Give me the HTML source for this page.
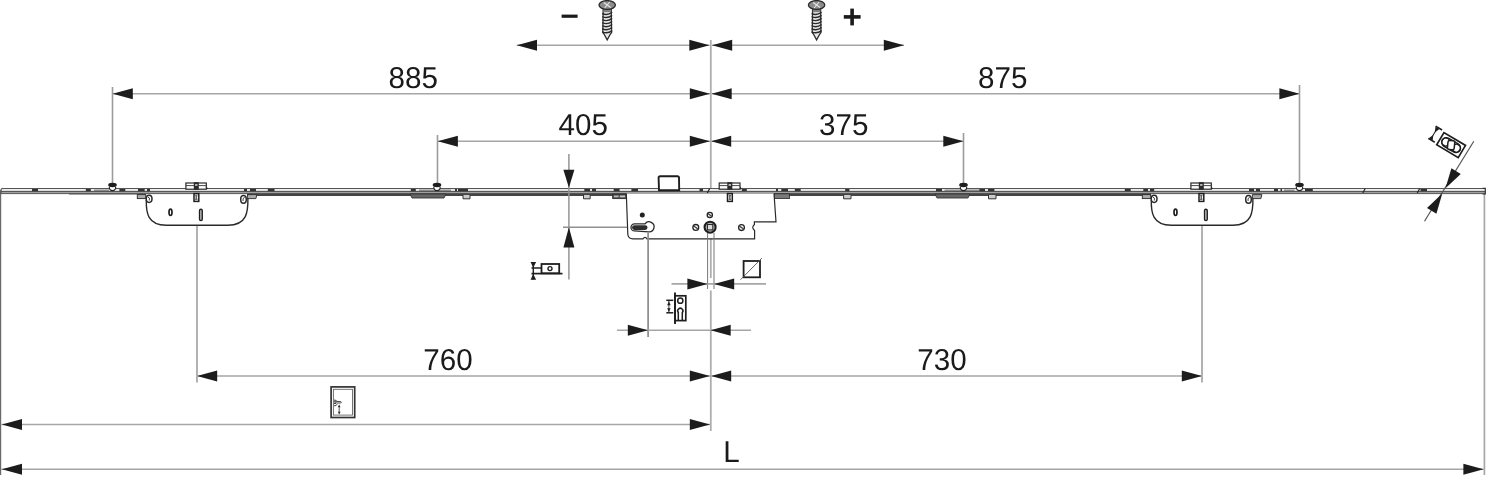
<!DOCTYPE html>
<html><head><meta charset="utf-8"><style>
html,body{margin:0;padding:0;background:#fff;}
body{width:1486px;height:480px;overflow:hidden;}
svg{display:block;will-change:transform;}
</style></head><body>
<svg width="1486" height="480" viewBox="0 0 1486 480">
<rect width="1486" height="480" fill="#fff"/>
<line x1="516.8" y1="45.3" x2="709.5" y2="45.3" stroke="#a6a6a6" stroke-width="1.6"/><polygon points="516.80,45.30 537.00,39.80 537.00,50.80" fill="#1c1c1c"/><polygon points="709.50,45.30 689.30,50.80 689.30,39.80" fill="#1c1c1c"/>
<line x1="712" y1="45.3" x2="904" y2="45.3" stroke="#a6a6a6" stroke-width="1.6"/><polygon points="712.00,45.30 732.20,39.80 732.20,50.80" fill="#1c1c1c"/><polygon points="904.00,45.30 883.80,50.80 883.80,39.80" fill="#1c1c1c"/>
<line x1="112.6" y1="93.7" x2="710" y2="93.7" stroke="#a6a6a6" stroke-width="1.6"/><polygon points="112.60,93.70 132.80,88.20 132.80,99.20" fill="#1c1c1c"/><polygon points="710.00,93.70 689.80,99.20 689.80,88.20" fill="#1c1c1c"/>
<line x1="711.5" y1="93.7" x2="1299.6" y2="93.7" stroke="#a6a6a6" stroke-width="1.6"/><polygon points="711.50,93.70 731.70,88.20 731.70,99.20" fill="#1c1c1c"/><polygon points="1299.60,93.70 1279.40,99.20 1279.40,88.20" fill="#1c1c1c"/>
<line x1="437.7" y1="141.3" x2="710" y2="141.3" stroke="#a6a6a6" stroke-width="1.6"/><polygon points="437.70,141.30 457.90,135.80 457.90,146.80" fill="#1c1c1c"/><polygon points="710.00,141.30 689.80,146.80 689.80,135.80" fill="#1c1c1c"/>
<line x1="711" y1="141.3" x2="963.5" y2="141.3" stroke="#a6a6a6" stroke-width="1.6"/><polygon points="711.00,141.30 731.20,135.80 731.20,146.80" fill="#1c1c1c"/><polygon points="963.50,141.30 943.30,146.80 943.30,135.80" fill="#1c1c1c"/>
<line x1="197" y1="376" x2="710" y2="376" stroke="#a6a6a6" stroke-width="1.6"/><polygon points="197.00,376.00 217.20,370.50 217.20,381.50" fill="#1c1c1c"/><polygon points="710.00,376.00 689.80,381.50 689.80,370.50" fill="#1c1c1c"/>
<line x1="711" y1="376" x2="1202" y2="376" stroke="#a6a6a6" stroke-width="1.6"/><polygon points="711.00,376.00 731.20,370.50 731.20,381.50" fill="#1c1c1c"/><polygon points="1202.00,376.00 1181.80,381.50 1181.80,370.50" fill="#1c1c1c"/>
<line x1="1.5" y1="424.5" x2="710.5" y2="424.5" stroke="#a6a6a6" stroke-width="1.6"/>
<polygon points="1.80,424.50 22.00,419.00 22.00,430.00" fill="#1c1c1c"/>
<polygon points="710.00,424.50 689.80,430.00 689.80,419.00" fill="#1c1c1c"/>
<line x1="1.5" y1="469.2" x2="1483.5" y2="469.2" stroke="#a6a6a6" stroke-width="1.6"/>
<polygon points="1.80,469.20 22.00,463.70 22.00,474.70" fill="#1c1c1c"/>
<polygon points="1483.60,469.20 1463.40,474.70 1463.40,463.70" fill="#1c1c1c"/>
<line x1="112.5" y1="87" x2="112.5" y2="186" stroke="#9c9c9c" stroke-width="1.6"/>
<line x1="437.5" y1="135" x2="437.5" y2="186" stroke="#9c9c9c" stroke-width="1.6"/>
<line x1="963.5" y1="133" x2="963.5" y2="186" stroke="#9c9c9c" stroke-width="1.6"/>
<line x1="1299.5" y1="85" x2="1299.5" y2="186" stroke="#9c9c9c" stroke-width="1.6"/>
<line x1="710.8" y1="40" x2="710.8" y2="278" stroke="#aeaeae" stroke-width="1.8"/>
<line x1="710.8" y1="290.5" x2="710.8" y2="431" stroke="#aeaeae" stroke-width="1.8"/>
<line x1="197" y1="226" x2="197" y2="382.5" stroke="#aaaaaa" stroke-width="1.8"/>
<line x1="1202" y1="226" x2="1202" y2="382.5" stroke="#aaaaaa" stroke-width="1.8"/>
<line x1="0.6" y1="190" x2="0.6" y2="475" stroke="#6a6a6a" stroke-width="1.2"/>
<line x1="1484.4" y1="193" x2="1484.4" y2="475" stroke="#a8a8a8" stroke-width="1.7"/>
<text transform="translate(413.2,87.5) scale(1,1.02)" x="0" y="0" font-family="Liberation Sans, sans-serif" text-rendering="geometricPrecision" font-size="29.6" fill="#1a1a1a" text-anchor="middle">885</text>
<text transform="translate(1002.8,87.8) scale(1,1.02)" x="0" y="0" font-family="Liberation Sans, sans-serif" text-rendering="geometricPrecision" font-size="29.6" fill="#1a1a1a" text-anchor="middle">875</text>
<text transform="translate(583.2,135.2) scale(1,1.02)" x="0" y="0" font-family="Liberation Sans, sans-serif" text-rendering="geometricPrecision" font-size="29.6" fill="#1a1a1a" text-anchor="middle">405</text>
<text transform="translate(843.7,135.2) scale(1,1.02)" x="0" y="0" font-family="Liberation Sans, sans-serif" text-rendering="geometricPrecision" font-size="29.6" fill="#1a1a1a" text-anchor="middle">375</text>
<text transform="translate(448,369.8) scale(1,1.02)" x="0" y="0" font-family="Liberation Sans, sans-serif" text-rendering="geometricPrecision" font-size="29.6" fill="#1a1a1a" text-anchor="middle">760</text>
<text transform="translate(941.9,369.8) scale(1,1.02)" x="0" y="0" font-family="Liberation Sans, sans-serif" text-rendering="geometricPrecision" font-size="29.6" fill="#1a1a1a" text-anchor="middle">730</text>
<text transform="translate(731.4,462.4) scale(1,1.02)" x="0" y="0" font-family="Liberation Sans, sans-serif" text-rendering="geometricPrecision" font-size="29.6" fill="#1a1a1a" text-anchor="middle">L</text>
<rect x="1" y="188" width="1484" height="6" fill="#eeeeee"/>
<line x1="3" y1="188.5" x2="1484" y2="188.5" stroke="#555" stroke-width="1.1"/>
<line x1="1" y1="191.4" x2="1485" y2="191.4" stroke="#444" stroke-width="1.0"/>
<line x1="1" y1="192.6" x2="1485" y2="192.6" stroke="#999" stroke-width="1.0"/>
<line x1="1" y1="193.6" x2="1485" y2="193.6" stroke="#555" stroke-width="1.0"/>
<rect x="247" y="193.5" width="904" height="2.5" fill="#444"/>
<path d="M1,194 L1,190.5 Q1,188.3 3,188.3" fill="none" stroke="#555" stroke-width="1.1"/>
<path d="M1482.5,188.3 L1485.3,188.3 L1485.3,194 L1482.5,194" fill="none" stroke="#333" stroke-width="1.2"/>
<rect x="32" y="189" width="6" height="2.2" fill="#333"/>
<rect x="85.8" y="189" width="5.0" height="2.2" fill="#333"/>
<rect x="119.4" y="189" width="5.8999999999999915" height="2.2" fill="#333"/>
<rect x="138" y="189" width="6.699999999999989" height="2.2" fill="#333"/>
<rect x="147" y="189" width="3" height="2.2" fill="#333"/>
<rect x="244" y="189" width="3" height="2.2" fill="#333"/>
<rect x="250" y="189" width="6" height="2.2" fill="#333"/>
<rect x="267.8" y="189" width="6.699999999999989" height="2.2" fill="#333"/>
<rect x="410.8" y="189" width="5.0" height="2.2" fill="#333"/>
<rect x="455" y="189" width="2" height="2.2" fill="#333"/>
<rect x="458" y="189" width="10" height="2.2" fill="#333"/>
<rect x="584.3" y="189" width="5.7000000000000455" height="2.2" fill="#333"/>
<rect x="592" y="189" width="4" height="2.2" fill="#333"/>
<rect x="613.7" y="189" width="5.899999999999977" height="2.2" fill="#333"/>
<rect x="631.4" y="189" width="6.600000000000023" height="2.2" fill="#333"/>
<rect x="699.5" y="189" width="3.5" height="2.2" fill="#333"/>
<rect x="741.8" y="189" width="5.0" height="2.2" fill="#333"/>
<rect x="776" y="189" width="2" height="2.2" fill="#333"/>
<rect x="781.3" y="189" width="6.7000000000000455" height="2.2" fill="#333"/>
<rect x="794.8" y="189" width="5.900000000000091" height="2.2" fill="#333"/>
<rect x="845.2" y="189" width="4.199999999999932" height="2.2" fill="#333"/>
<rect x="936" y="189" width="6" height="2.2" fill="#333"/>
<rect x="979.3" y="189" width="5.7000000000000455" height="2.2" fill="#333"/>
<rect x="988" y="189" width="6.399999999999977" height="2.2" fill="#333"/>
<rect x="1124.8" y="189" width="5.900000000000091" height="2.2" fill="#333"/>
<rect x="1143.3" y="189" width="4.7000000000000455" height="2.2" fill="#333"/>
<rect x="1150" y="189" width="4.2000000000000455" height="2.2" fill="#333"/>
<rect x="1249" y="189" width="5" height="2.2" fill="#333"/>
<rect x="1256" y="189" width="4" height="2.2" fill="#333"/>
<rect x="1274" y="189" width="4" height="2.2" fill="#333"/>
<rect x="1280.5" y="189" width="1.5" height="2.2" fill="#333"/>
<rect x="1305" y="189" width="7.7999999999999545" height="2.2" fill="#333"/>
<rect x="1420.5" y="189" width="6.5" height="2.2" fill="#333"/>
<rect x="94" y="189.6" width="15" height="1.2" fill="#777"/>
<rect x="419" y="189.6" width="32" height="1.2" fill="#777"/>
<rect x="944.5" y="189.6" width="34.5" height="1.2" fill="#777"/>
<rect x="1284" y="189.6" width="10.599999999999909" height="1.2" fill="#777"/>
<rect x="69" y="193.4" width="77" height="1.1" fill="#555"/>
<path d="M410,194 L446,194 L444,198 L412,198 Z" fill="#666" stroke="#333" stroke-width="0.9"/>
<path d="M935,194 L970,194 L968,198 L937,198 Z" fill="#666" stroke="#333" stroke-width="0.9"/>
<path d="M463,195 L463,198.8 L470,198.8 L470,195" fill="#ccc" stroke="#333" stroke-width="1"/>
<path d="M583.5,195 L583.5,198.8 L590.2,198.8 L590.2,195" fill="#ccc" stroke="#333" stroke-width="1"/>
<path d="M843.6,195 L843.6,198.8 L851,198.8 L851,195" fill="#ccc" stroke="#333" stroke-width="1"/>
<path d="M988.5,195 L988.5,198.8 L996,198.8 L996,195" fill="#ccc" stroke="#333" stroke-width="1"/>
<rect x="612.7" y="194.2" width="13.8" height="4.4" fill="#555" stroke="#2a2a2a" stroke-width="0.9"/>
<rect x="614" y="195.6" width="4.5" height="1.6" fill="#bbb"/><rect x="620" y="195.6" width="5" height="1.6" fill="#ccc"/>
<line x1="709.7" y1="188.5" x2="707.3" y2="193" stroke="#222" stroke-width="1.2"/>
<line x1="1365.2" y1="188.5" x2="1362.8" y2="193" stroke="#222" stroke-width="1.2"/>
<line x1="1419.7" y1="188.5" x2="1417.3" y2="193" stroke="#222" stroke-width="1.2"/>
<path d="M109.3,187 Q109.3,190.6 112.5,190.6 Q115.7,190.6 115.7,187" fill="#fff" stroke="#222" stroke-width="1.1"/>
<ellipse cx="112.5" cy="185" rx="4.3" ry="2.2" fill="#1e1e1e"/>
<path d="M433.8,187 Q433.8,190.6 437,190.6 Q440.2,190.6 440.2,187" fill="#fff" stroke="#222" stroke-width="1.1"/>
<ellipse cx="437" cy="185" rx="4.3" ry="2.2" fill="#1e1e1e"/>
<path d="M960.3,187 Q960.3,190.6 963.5,190.6 Q966.7,190.6 966.7,187" fill="#fff" stroke="#222" stroke-width="1.1"/>
<ellipse cx="963.5" cy="185" rx="4.3" ry="2.2" fill="#1e1e1e"/>
<path d="M1296.3,187 Q1296.3,190.6 1299.5,190.6 Q1302.7,190.6 1302.7,187" fill="#fff" stroke="#222" stroke-width="1.1"/>
<ellipse cx="1299.5" cy="185" rx="4.3" ry="2.2" fill="#1e1e1e"/>
<path d="M146.3,200 C146.0,212 147.3,225.2 166.3,225.2 L227.9,225.2 C246.9,225.2 248.20000000000002,212 247.9,198" fill="none" stroke="#2a2a2a" stroke-width="1.4"/><ellipse cx="149.10000000000002" cy="198.8" rx="2.9" ry="3.6" fill="#fff" stroke="#2a2a2a" stroke-width="1.5"/><path d="M147.8,197 Q150.3,197.5 149.3,200.5" fill="none" stroke="#2a2a2a" stroke-width="0.9"/><ellipse cx="243.5" cy="199.4" rx="2.8" ry="3.8" fill="#fff" stroke="#2a2a2a" stroke-width="1.5"/><path d="M244.70000000000002,197.4 Q242.1,198 243.1,201" fill="none" stroke="#2a2a2a" stroke-width="0.9"/><rect x="137.3" y="194.6" width="8.4" height="4" fill="#aaa" stroke="#2a2a2a" stroke-width="0.9"/><path d="M247.4,194.6 L256.9,194.6 L255.9,198.6 L247.4,198.6 Z" fill="#aaa" stroke="#2a2a2a" stroke-width="0.9"/><ellipse cx="170.5" cy="212.3" rx="1.5" ry="3.2" fill="#fff" stroke="#1e1e1e" stroke-width="1.7"/><rect x="199.6" y="209.2" width="2.6" height="11.4" rx="1.3" fill="#eee" stroke="#1e1e1e" stroke-width="1.5"/><rect x="185.9" y="183" width="20.400000000000006" height="6.2" fill="#fff" stroke="#2a2a2a" stroke-width="1.2"/><line x1="185.9" y1="185.6" x2="206.3" y2="185.6" stroke="#333" stroke-width="0.9"/><polygon points="206.3,186.5 208.10000000000002,188.6 206.3,189" fill="#222"/><rect x="193.8" y="182.2" width="5" height="7.5" fill="#2a2a2a"/><rect x="195.10000000000002" y="184.2" width="2.4" height="1.5" fill="#ddd"/><rect x="194.0" y="193.6" width="4.8" height="7.8" fill="#fff" stroke="#1e1e1e" stroke-width="1.5"/><path d="M195.0,194.8 L197.60000000000002,194.8 L197.0,197.5 L197.60000000000002,200 L195.0,200 L195.60000000000002,197.5 Z" fill="#666"/>
<path d="M1151.3,200 C1151.0,212 1152.3,225.2 1171.3,225.2 L1232.9,225.2 C1251.9,225.2 1253.2,212 1252.9,198" fill="none" stroke="#2a2a2a" stroke-width="1.4"/><ellipse cx="1154.1" cy="198.8" rx="2.9" ry="3.6" fill="#fff" stroke="#2a2a2a" stroke-width="1.5"/><path d="M1152.8,197 Q1155.3,197.5 1154.3,200.5" fill="none" stroke="#2a2a2a" stroke-width="0.9"/><ellipse cx="1248.5" cy="199.4" rx="2.8" ry="3.8" fill="#fff" stroke="#2a2a2a" stroke-width="1.5"/><path d="M1249.7,197.4 Q1247.1000000000001,198 1248.1000000000001,201" fill="none" stroke="#2a2a2a" stroke-width="0.9"/><rect x="1142.3" y="194.6" width="8.4" height="4" fill="#aaa" stroke="#2a2a2a" stroke-width="0.9"/><path d="M1252.4,194.6 L1261.9,194.6 L1260.9,198.6 L1252.4,198.6 Z" fill="#aaa" stroke="#2a2a2a" stroke-width="0.9"/><ellipse cx="1175.5" cy="212.3" rx="1.5" ry="3.2" fill="#fff" stroke="#1e1e1e" stroke-width="1.7"/><rect x="1204.6" y="209.2" width="2.6" height="11.4" rx="1.3" fill="#eee" stroke="#1e1e1e" stroke-width="1.5"/><rect x="1190.9" y="183" width="20.399999999999864" height="6.2" fill="#fff" stroke="#2a2a2a" stroke-width="1.2"/><line x1="1190.9" y1="185.6" x2="1211.3" y2="185.6" stroke="#333" stroke-width="0.9"/><polygon points="1211.3,186.5 1213.1,188.6 1211.3,189" fill="#222"/><rect x="1198.8" y="182.2" width="5" height="7.5" fill="#2a2a2a"/><rect x="1200.1" y="184.2" width="2.4" height="1.5" fill="#ddd"/><rect x="1199.0" y="193.6" width="4.8" height="7.8" fill="#fff" stroke="#1e1e1e" stroke-width="1.5"/><path d="M1200.0,194.8 L1202.6,194.8 L1202.0,197.5 L1202.6,200 L1200.0,200 L1200.6,197.5 Z" fill="#666"/>
<path d="M626.3,193.5 L627.8,234 Q628,238.8 633,238.8 L643,238.8 Q645,236 647,238.8 L754.6,238.8 L754.6,230.5 Q751,227.5 754.4,224.5 L754.4,221.8 L776,221.8 L774,193.5" fill="#fff" stroke="#2a2a2a" stroke-width="1.2"/>
<path d="M659,190.2 L658.6,177.8 Q658.6,176.2 660.2,176.2 L677.4,176.2 Q679,176.2 679,177.8 L679.2,190.2 Z" fill="#fff" stroke="#1e1e1e" stroke-width="1.9"/>
<rect x="774.5" y="193.8" width="15" height="4.8" fill="#7a7a7a" stroke="#2a2a2a" stroke-width="0.8"/>
<rect x="719.2" y="183" width="20.799999999999955" height="6.2" fill="#fff" stroke="#2a2a2a" stroke-width="1.2"/><line x1="719.2" y1="185.6" x2="740" y2="185.6" stroke="#333" stroke-width="0.9"/><polygon points="740,186.5 741.8,188.6 740,189" fill="#222"/><rect x="727.3" y="182.2" width="5" height="7.5" fill="#2a2a2a"/><rect x="728.5999999999999" y="184.2" width="2.4" height="1.5" fill="#ddd"/><rect x="727.5" y="193.6" width="4.8" height="7.8" fill="#fff" stroke="#1e1e1e" stroke-width="1.5"/><path d="M728.5,194.8 L731.0999999999999,194.8 L730.5,197.5 L731.0999999999999,200 L728.5,200 L729.0999999999999,197.5 Z" fill="#666"/>
<circle cx="642.3" cy="215" r="2.5" fill="#222"/>
<circle cx="709.8" cy="214.9" r="2.6" fill="#fff" stroke="#222" stroke-width="1.3"/>
<line x1="707.9799999999999" y1="213.6" x2="711.62" y2="216.20000000000002" stroke="#444" stroke-width="1.3"/>
<circle cx="695.8" cy="227.4" r="2.9" fill="#fff" stroke="#222" stroke-width="1.3"/>
<line x1="693.77" y1="225.95000000000002" x2="697.8299999999999" y2="228.85" stroke="#444" stroke-width="1.3"/>
<circle cx="741.5" cy="227.6" r="2.9" fill="#fff" stroke="#222" stroke-width="1.3"/>
<line x1="739.47" y1="226.15" x2="743.53" y2="229.04999999999998" stroke="#444" stroke-width="1.3"/>
<circle cx="710.1" cy="227.2" r="5.5" fill="#bbb" stroke="#1e1e1e" stroke-width="2.1"/>
<rect x="707.4" y="224.5" width="5.4" height="5.4" fill="#ddd" stroke="#2a2a2a" stroke-width="1.1"/>
<path d="M634.5,223.9 L645,223.9 A5,5 0 1 1 648.5,231.8 L634.5,230.9 A3.5,3.5 0 0 1 634.5,223.9 Z" fill="#fff" stroke="#2a2a2a" stroke-width="1.3"/>
<rect x="632" y="225.3" width="15.5" height="4.6" rx="2.3" fill="#2e2e2e"/>
<line x1="707.6" y1="233" x2="707.6" y2="289" stroke="#777" stroke-width="1"/>
<line x1="714" y1="233" x2="714" y2="289" stroke="#777" stroke-width="1"/>
<line x1="671.5" y1="283.9" x2="766" y2="283.9" stroke="#a6a6a6" stroke-width="1.6"/>
<polygon points="707.60,283.90 687.40,289.40 687.40,278.40" fill="#1c1c1c"/>
<polygon points="714.00,283.90 734.20,278.40 734.20,289.40" fill="#1c1c1c"/>
<rect x="743.6" y="261" width="16.4" height="16.3" fill="none" stroke="#1e1e1e" stroke-width="1.8"/>
<line x1="740.5" y1="279.7" x2="761.9" y2="258.1" stroke="#555" stroke-width="0.9"/>
<line x1="568.9" y1="154" x2="568.9" y2="279.4" stroke="#959595" stroke-width="1.5"/>
<polygon points="568.90,187.80 563.40,169.80 574.40,169.80" fill="#1c1c1c"/>
<polygon points="568.90,227.30 574.40,247.50 563.40,247.50" fill="#1c1c1c"/>
<line x1="563" y1="227.2" x2="627" y2="227.2" stroke="#909090" stroke-width="1.5"/>
<line x1="648.1" y1="233" x2="648.1" y2="337" stroke="#8c8c8c" stroke-width="1.7"/>
<line x1="617" y1="330.2" x2="751" y2="330.2" stroke="#a6a6a6" stroke-width="1.6"/>
<polygon points="648.00,330.20 627.80,335.70 627.80,324.70" fill="#1c1c1c"/>
<polygon points="710.50,330.20 730.70,324.70 730.70,335.70" fill="#1c1c1c"/>
<rect x="541.5" y="264" width="17.7" height="9.3" fill="none" stroke="#1e1e1e" stroke-width="1.8"/>
<circle cx="550" cy="268.6" r="2" fill="none" stroke="#1e1e1e" stroke-width="1.4"/>
<line x1="531.5" y1="273.6" x2="562.5" y2="273.6" stroke="#1e1e1e" stroke-width="1.7"/>
<line x1="531.5" y1="268" x2="541.5" y2="268" stroke="#1e1e1e" stroke-width="1.5"/>
<line x1="533.3" y1="262" x2="533.3" y2="279.6" stroke="#1e1e1e" stroke-width="1.4"/>
<polygon points="530.5,262 536.1,262 533.3,267.8" fill="#1e1e1e"/><polygon points="530.5,279.8 536.1,279.8 533.3,274" fill="#1e1e1e"/>
<line x1="675" y1="292.5" x2="675" y2="324" stroke="#1e1e1e" stroke-width="1.9"/>
<rect x="675" y="295.8" width="10.8" height="24.8" fill="none" stroke="#1e1e1e" stroke-width="1.7"/>
<circle cx="680.3" cy="300.7" r="2.6" fill="none" stroke="#1e1e1e" stroke-width="1.5"/>
<path d="M678.3,320 L678.3,312.5 A2.6,2.6 0 1 1 682.3,312.5 L682.3,320" fill="none" stroke="#1e1e1e" stroke-width="1.5"/>
<line x1="666.3" y1="300.3" x2="673.3" y2="300.3" stroke="#1e1e1e" stroke-width="1.5"/>
<line x1="666.3" y1="312.8" x2="673.3" y2="312.8" stroke="#1e1e1e" stroke-width="1.5"/>
<line x1="668.9" y1="301" x2="668.9" y2="312" stroke="#222" stroke-width="0.9"/>
<polygon points="667.1,305.3 670.7,305.3 668.9,301.6" fill="#1e1e1e"/><polygon points="667.1,308.2 670.7,308.2 668.9,311.8" fill="#1e1e1e"/>
<rect x="331.1" y="386.9" width="23.6" height="30.6" fill="none" stroke="#333" stroke-width="1.7"/>
<rect x="333.4" y="389.3" width="19.1" height="25.8" fill="none" stroke="#666" stroke-width="0.9"/>
<path d="M334,400 Q336.8,400 336.8,401.6 Q336.8,403 334,403.2 M334,401.3 L336.5,401.3" fill="none" stroke="#333" stroke-width="0.9"/>
<path d="M334,403.4 Q336.8,403.4 336.8,404.6 Q336.8,405.8 334,405.8" fill="none" stroke="#333" stroke-width="0.9"/>
<path d="M336.8,401.4 L340.8,401.6 Q342,402.3 340.8,403 L336.8,403" fill="none" stroke="#333" stroke-width="0.9"/>
<line x1="339.2" y1="405.5" x2="339.2" y2="413.5" stroke="#333" stroke-width="0.8"/>
<polygon points="337.8,407.2 340.6,407.2 339.2,404.6" fill="#333"/><polygon points="337.8,411.8 340.6,411.8 339.2,414.4" fill="#333"/>
<rect x="561.6" y="14.6" width="16" height="3.2" fill="#1a1a1a"/>
<rect x="843.8" y="15.1" width="16.8" height="3.6" fill="#1a1a1a"/>
<rect x="850.3" y="8.6" width="3.6" height="16.8" fill="#1a1a1a"/>
<g><path d="M603.2,9 L602.8000000000001,32.5 L604.0,34 L607.2,39.8 L610.4000000000001,34 L611.6,32.5 L611.2,9 Z" fill="#e8e8e8" stroke="#2a2a2a" stroke-width="1.3"/><rect x="603.4000000000001" y="9" width="7.6" height="3.2" fill="#808080"/><path d="M602.2,13.5 Q607.2,16.0 612.2,12.3" fill="none" stroke="#2a2a2a" stroke-width="1.4"/><path d="M602.2,16.55 Q607.2,19.05 612.2,15.350000000000001" fill="none" stroke="#2a2a2a" stroke-width="1.4"/><path d="M602.2,19.599999999999998 Q607.2,22.099999999999998 612.2,18.4" fill="none" stroke="#2a2a2a" stroke-width="1.4"/><path d="M602.2,22.65 Q607.2,25.15 612.2,21.45" fill="none" stroke="#2a2a2a" stroke-width="1.4"/><path d="M602.2,25.7 Q607.2,28.2 612.2,24.5" fill="none" stroke="#2a2a2a" stroke-width="1.4"/><path d="M602.2,28.75 Q607.2,31.25 612.2,27.55" fill="none" stroke="#2a2a2a" stroke-width="1.4"/><path d="M602.2,31.799999999999997 Q607.2,34.3 612.2,30.599999999999998" fill="none" stroke="#2a2a2a" stroke-width="1.4"/><ellipse cx="607.2" cy="5" rx="8.2" ry="4.4" fill="#8c8c8c" stroke="#2a2a2a" stroke-width="1.3"/><path d="M603.7,2.5 L610.7,7.5 M609.7,2 L604.7,8" stroke="#e6e6e6" stroke-width="1.1"/></g>
<g><path d="M812.6,9 L812.2,32.5 L813.4,34 L816.6,39.8 L819.8000000000001,34 L821.0,32.5 L820.6,9 Z" fill="#e8e8e8" stroke="#2a2a2a" stroke-width="1.3"/><rect x="812.8000000000001" y="9" width="7.6" height="3.2" fill="#808080"/><path d="M811.6,13.5 Q816.6,16.0 821.6,12.3" fill="none" stroke="#2a2a2a" stroke-width="1.4"/><path d="M811.6,16.55 Q816.6,19.05 821.6,15.350000000000001" fill="none" stroke="#2a2a2a" stroke-width="1.4"/><path d="M811.6,19.599999999999998 Q816.6,22.099999999999998 821.6,18.4" fill="none" stroke="#2a2a2a" stroke-width="1.4"/><path d="M811.6,22.65 Q816.6,25.15 821.6,21.45" fill="none" stroke="#2a2a2a" stroke-width="1.4"/><path d="M811.6,25.7 Q816.6,28.2 821.6,24.5" fill="none" stroke="#2a2a2a" stroke-width="1.4"/><path d="M811.6,28.75 Q816.6,31.25 821.6,27.55" fill="none" stroke="#2a2a2a" stroke-width="1.4"/><path d="M811.6,31.799999999999997 Q816.6,34.3 821.6,30.599999999999998" fill="none" stroke="#2a2a2a" stroke-width="1.4"/><ellipse cx="816.6" cy="5" rx="8.2" ry="4.4" fill="#8c8c8c" stroke="#2a2a2a" stroke-width="1.3"/><path d="M813.1,2.5 L820.1,7.5 M819.1,2 L814.1,8" stroke="#e6e6e6" stroke-width="1.1"/></g>
<g transform="translate(1451.1,145.1) rotate(30.7)"><rect x="-12.5" y="-7.1" width="25" height="14.2" fill="#fff" stroke="#1e1e1e" stroke-width="1.7"/><path d="M-5.5,-4.6 L5.5,-4.6 A4.6,4.6 0 0 1 5.5,4.6 L-5.5,4.6 A4.6,4.6 0 0 1 -5.5,-4.6 Z" fill="none" stroke="#1e1e1e" stroke-width="1.5"/><circle cx="-6.2" cy="0" r="4" fill="none" stroke="#1e1e1e" stroke-width="1.4"/><circle cx="6.2" cy="0" r="4" fill="none" stroke="#1e1e1e" stroke-width="1.4"/><rect x="-3.4" y="-4.5" width="6.8" height="9" rx="1.8" fill="#fff" stroke="#1e1e1e" stroke-width="1.5" transform="rotate(-25)"/><line x1="-23" y1="-8.4" x2="-15.5" y2="-8.4" stroke="#1e1e1e" stroke-width="1.6"/><line x1="-23" y1="5.9" x2="-15.5" y2="5.9" stroke="#1e1e1e" stroke-width="1.6"/><line x1="-20.5" y1="-8" x2="-20.5" y2="5.5" stroke="#1e1e1e" stroke-width="1"/><polygon points="-22.8,-7.8 -18.2,-7.8 -20.5,-2.6" fill="#1e1e1e"/><polygon points="-22.8,5.5 -18.2,5.5 -20.5,0.3" fill="#1e1e1e"/></g>
<line x1="1473.8" y1="141.2" x2="1424.5" y2="221.3" stroke="#555" stroke-width="1.2"/>
<polygon points="1445.50,188.30 1451.40,168.21 1460.77,173.98" fill="#1c1c1c"/>
<polygon points="1442.30,193.60 1436.40,213.69 1427.03,207.92" fill="#1c1c1c"/>
</svg>
</body></html>
